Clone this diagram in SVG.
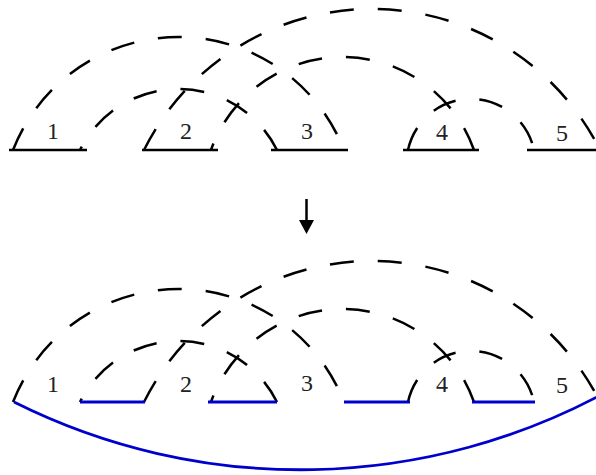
<svg xmlns="http://www.w3.org/2000/svg" width="596" height="475" viewBox="0 0 596 475">
<style>
.seg{stroke:#000;stroke-width:2.5;fill:none}
.bseg{stroke:#0000CC;stroke-width:2.8;fill:none}
.arc{stroke:#000;stroke-width:2.5;fill:none;stroke-dasharray:24 24}
.lbl{font-family:"Liberation Serif","Times New Roman",serif;font-size:24px;fill:#222;text-anchor:middle}
</style>
<rect width="596" height="475" fill="#fff"/>
<g id="connectors">
<g id="top-arcs">
<path class="arc" d="M13,150 A177.7,177.7 0 0 1 344,150"/>
<path class="arc" d="M277,150 A110,110 0 0 0 80,150"/>
<path class="arc" d="M144,150 A254.8,254.8 0 0 1 600,150"/>
<path class="arc" d="M474,150 A139.5,139.5 0 0 0 211,150"/>
<path class="arc" d="M408,150 A64.4,64.4 0 0 1 534,150"/>
</g>
<g id="bottom-arcs" transform="translate(0,252)">
<path class="arc" d="M13,150 A177.7,177.7 0 0 1 344,150"/>
<path class="arc" d="M277,150 A110,110 0 0 0 80,150"/>
<path class="arc" d="M144,150 A254.8,254.8 0 0 1 600,150"/>
<path class="arc" d="M474,150 A139.5,139.5 0 0 0 211,150"/>
<path class="arc" d="M408,150 A64.4,64.4 0 0 1 534,150"/>
</g>
<path id="blue-arc" class="bseg" d="M14,402 A640,640 0 0 0 610,390"/>
<g id="arrow">
<line x1="306.5" y1="199" x2="306.5" y2="221" stroke="#000" stroke-width="2.5"/>
<polygon points="299,220 314,220 306.5,234" fill="#000"/>
</g>
</g>
<g id="n1"><line class="seg" x1="9" y1="150" x2="87" y2="150"/><text class="lbl" x="53" y="139">1</text></g>
<g id="n2"><line class="seg" x1="142" y1="150" x2="218" y2="150"/><text class="lbl" x="186" y="139">2</text></g>
<g id="n3"><line class="seg" x1="271" y1="150" x2="348" y2="150"/><text class="lbl" x="307" y="139">3</text></g>
<g id="n4"><line class="seg" x1="403" y1="150" x2="479" y2="150"/><text class="lbl" x="442" y="140">4</text></g>
<g id="n5"><line class="seg" x1="527" y1="150" x2="597" y2="150"/><text class="lbl" x="562" y="141">5</text></g>
<g id="m1"><text class="lbl" x="53" y="392">1</text></g>
<g id="m2"><line class="bseg" x1="80" y1="402" x2="145" y2="402"/><text class="lbl" x="186" y="392">2</text></g>
<g id="m3"><line class="bseg" x1="208" y1="402" x2="277" y2="402"/><text class="lbl" x="307" y="391">3</text></g>
<g id="m4"><line class="bseg" x1="344" y1="402" x2="410" y2="402"/><text class="lbl" x="442" y="392">4</text></g>
<g id="m5"><line class="bseg" x1="472" y1="402" x2="535" y2="402"/><text class="lbl" x="562" y="393">5</text></g>
</svg>
